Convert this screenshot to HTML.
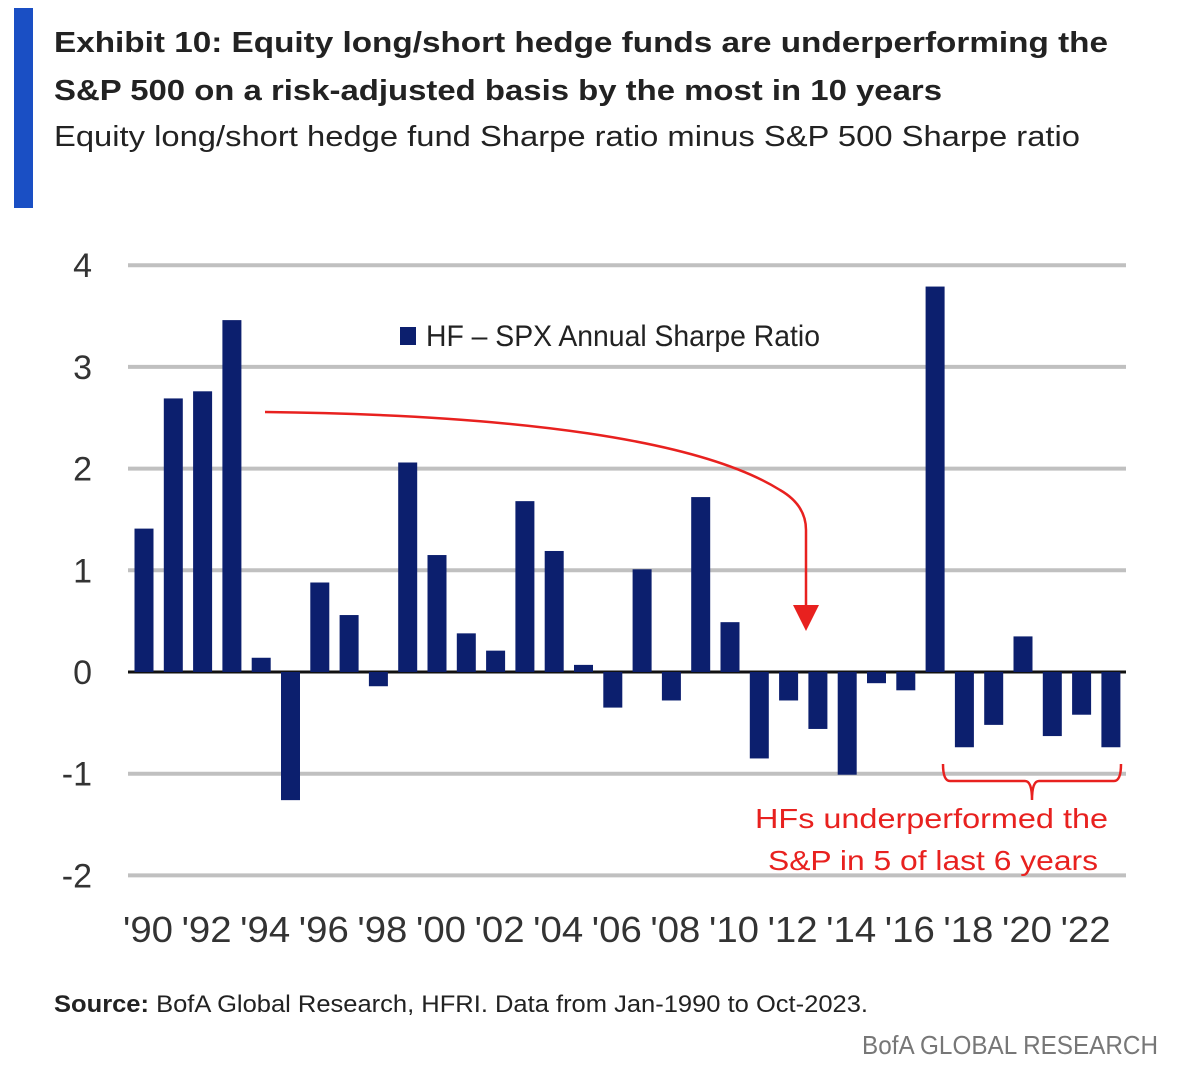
<!DOCTYPE html>
<html><head><meta charset="utf-8"><style>
html,body{margin:0;padding:0;background:#fff;}
svg{display:block;font-family:"Liberation Sans",sans-serif;}
</style></head><body>
<svg id="c" width="1178" height="1074" viewBox="0 0 1178 1074">
<rect x="14" y="8" width="19" height="200" fill="#1a4fc4"/>
<text x="54" y="52" font-size="29" font-weight="bold" fill="#222" textLength="1054" lengthAdjust="spacingAndGlyphs">Exhibit 10: Equity long/short hedge funds are underperforming  the</text>
<text x="54" y="100" font-size="29" font-weight="bold" fill="#222" textLength="888" lengthAdjust="spacingAndGlyphs">S&amp;P 500 on a risk-adjusted basis by the most in 10 years</text>
<text x="54" y="146" font-size="29" fill="#222" textLength="1026" lengthAdjust="spacingAndGlyphs">Equity long/short  hedge fund Sharpe  ratio  minus  S&amp;P 500 Sharpe  ratio</text>
<g id="grid"></g><g id="bars"></g><g id="labels"></g>
<rect x="400" y="327" width="16" height="18" fill="#0c1f6e"/>
<text x="426" y="346" font-size="30" fill="#222" textLength="394" lengthAdjust="spacingAndGlyphs">HF – SPX Annual Sharpe Ratio</text>
<path d="M265,412 C520,415 700,440 780,490 Q806,505 806,530 L806,606" fill="none" stroke="#e8211f" stroke-width="2.5"/>
<polygon points="793,605 819,605 806,631" fill="#e8211f"/>
<path d="M943,764 Q943,781 950,781 L1025,781 Q1032,781 1032,800 Q1032,781 1039,781 L1114,781 Q1121,781 1121,764" fill="none" stroke="#e8211f" stroke-width="2.5"/>
<text x="755" y="828" font-size="28" fill="#e8211f" textLength="353" lengthAdjust="spacingAndGlyphs">HFs underperformed  the</text>
<text x="768" y="870" font-size="28" fill="#e8211f" textLength="330" lengthAdjust="spacingAndGlyphs">S&amp;P in 5 of last 6 years</text>
<text x="54" y="1012" font-size="24" fill="#222" textLength="814" lengthAdjust="spacingAndGlyphs"><tspan font-weight="bold">Source:</tspan> BofA Global Research, HFRI. Data from Jan-1990 to Oct-2023.</text>
<text x="862" y="1054" font-size="26" fill="#777" textLength="296" lengthAdjust="spacingAndGlyphs">BofA GLOBAL RESEARCH</text>
</svg>
<script>
const years=[1990,1991,1992,1993,1994,1995,1996,1997,1998,1999,2000,2001,2002,2003,2004,2005,2006,2007,2008,2009,2010,2011,2012,2013,2014,2015,2016,2017,2018,2019,2020,2021,2022,2023];
const values=[1.41,2.69,2.76,3.46,0.14,-1.26,0.88,0.56,-0.14,2.06,1.15,0.38,0.21,1.68,1.19,0.07,-0.35,1.01,-0.28,1.72,0.49,-0.85,-0.28,-0.56,-1.01,-0.11,-0.18,3.79,-0.74,-0.52,0.35,-0.63,-0.42,-0.74];
const yTicks=[4,3,2,1,0,-1,-2];
const ns="http://www.w3.org/2000/svg";
const y=v=>672-v*101.7;
const x=i=>144+i*29.3;
const g=document.getElementById('grid'),b=document.getElementById('bars'),l=document.getElementById('labels');
yTicks.forEach(t=>{
  const ln=document.createElementNS(ns,'line');
  ln.setAttribute('x1',128);ln.setAttribute('x2',1126);ln.setAttribute('y1',y(t));ln.setAttribute('y2',y(t));
  ln.setAttribute('stroke',t===0?'#111':'#c0c0c0');ln.setAttribute('stroke-width',t===0?3:4);
  
  
  g.appendChild(ln);
  const tx=document.createElementNS(ns,'text');
  tx.setAttribute('x',92);tx.setAttribute('y',y(t)+12);tx.setAttribute('text-anchor','end');
  tx.setAttribute('font-size',34);tx.setAttribute('fill','#333');tx.textContent=t;
  
  
  l.appendChild(tx);
});
values.forEach((v,i)=>{
  const r=document.createElementNS(ns,'rect');
  r.setAttribute('x',x(i)-9.5);r.setAttribute('width',19);
  r.setAttribute('y',Math.min(y(v),y(0)));r.setAttribute('height',Math.abs(y(v)-y(0)));
  r.setAttribute('fill','#0c1f6e');
  
  
  b.appendChild(r);
  if(years[i]%2===0){
    const tx=document.createElementNS(ns,'text');
    tx.setAttribute('x',x(i)+4);tx.setAttribute('y',942);tx.setAttribute('text-anchor','middle');
    tx.setAttribute('font-size',36);tx.setAttribute('fill','#333');
    tx.setAttribute('textLength',50);tx.setAttribute('lengthAdjust','spacingAndGlyphs');
    tx.textContent="'"+String(years[i]).slice(2);
    
    
    l.appendChild(tx);
  }
});
</script>
</body></html>
